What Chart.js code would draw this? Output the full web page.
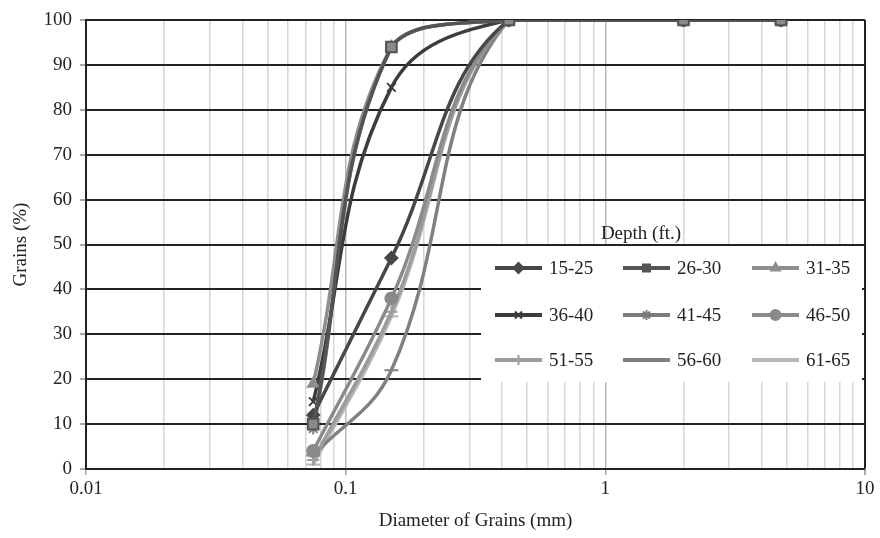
<!DOCTYPE html>
<html>
<head>
<meta charset="utf-8">
<script src="https://cdn.jsdelivr.net/npm/chart.js@4.4.1/dist/chart.umd.min.js"></script>
<style>
  html, body { margin: 0; padding: 0; background: #fff; }
  #wrap { width: 880px; height: 538px; }
</style>
</head>
<body>
<div id="wrap"><canvas id="gradChart"></canvas></div>
<script>
// sieve sizes (mm) and percent passing per depth interval
const diameters = [0.075, 0.15, 0.425, 2.0, 4.75];
const depthLabels = ['15-25', '26-30', '31-35', '36-40', '41-45', '46-50', '51-55', '56-60', '61-65'];
const d15_25 = [12, 47, 100, 100, 100];
const d26_30 = [10, 94, 100, 100, 100];
const d31_35 = [19, 94, 100, 100, 100];
const d36_40 = [15, 85, 100, 100, 100];
const d41_45 = [9, 94, 100, 100, 100];
const d46_50 = [4, 38, 100, 100, 100];
const d51_55 = [2, 35, 100, 100, 100];
const d56_60 = [3, 22, 100, 100, 100];
const d61_65 = [1, 34, 100, 100, 100];
const xTickLabels = [0.01, 0.1, 1, 10];
const yTicks = [0, 10, 20, 30, 40, 50, 60, 70, 80, 90, 100];

const seriesValues = [d15_25, d26_30, d31_35, d36_40, d41_45, d46_50, d51_55, d56_60, d61_65];
const seriesColors = ['#474747', '#545454', '#8e8e8e', '#3c3c3c', '#7c7c7c', '#8a8a8a', '#9c9c9c', '#808080', '#b6b6b6'];
const seriesMarkers = ['rectRot', 'rect', 'triangle', 'crossRot', 'star', 'circle', 'cross', 'line', 'line'];

const FONT = '"Liberation Serif", "DejaVu Serif", serif';

// minor log grid ticks 1..9 per decade
function logTicks() {
  const out = [];
  for (let e = -2; e <= 0; e++) {
    for (let m = 1; m <= 9; m++) {
      out.push({ value: Number((m * Math.pow(10, e)).toPrecision(2)) });
    }
  }
  out.push({ value: 10 });
  return out;
}

function isMajor(v) {
  return xTickLabels.some(t => Math.abs(t - v) < 1e-9);
}

// white legend box with title, sitting inside the plot
const depthLegend = {
  id: 'depthLegend',
  afterDraw(chart) {
    const ctx = chart.ctx;
    ctx.save();
    ctx.fillStyle = '#fff';
    ctx.fillRect(481, 246, 381, 136);
    ctx.fillStyle = '#222';
    ctx.font = '19px ' + FONT;
    ctx.textAlign = 'center';
    ctx.textBaseline = 'middle';
    ctx.fillText('Depth (ft.)', 641, 234);

    const cols = [495, 623, 752];
    const rows = [268, 315, 360];
    depthLabels.forEach((lab, i) => {
      const x = cols[i % 3];
      const y = rows[Math.floor(i / 3)];
      const col = seriesColors[i];
      ctx.strokeStyle = col;
      ctx.lineWidth = 4;
      ctx.beginPath();
      ctx.moveTo(x, y);
      ctx.lineTo(x + 47, y);
      ctx.stroke();
      if (seriesMarkers[i] !== 'line') {
        ctx.fillStyle = col;
        ctx.strokeStyle = col;
        ctx.lineWidth = 2;
        Chart.helpers.drawPoint(ctx, {
          pointStyle: seriesMarkers[i],
          radius: 5,
          borderWidth: 2,
          rotation: 0
        }, x + 23.5, y);
      }
      ctx.fillStyle = '#222';
      ctx.textAlign = 'left';
      ctx.fillText(lab, x + 54, y + 1);
    });
    ctx.restore();
  }
};

const datasets = depthLabels.map((lab, i) => ({
  label: lab,
  data: diameters.map((d, j) => ({ x: d, y: seriesValues[i][j] })),
  borderColor: seriesColors[i],
  backgroundColor: seriesColors[i],
  pointBackgroundColor: seriesMarkers[i] === 'rect' ? '#8a8a8a' : seriesColors[i],
  pointBorderColor: seriesColors[i],
  pointStyle: seriesMarkers[i],
  pointRadius: seriesMarkers[i] === 'rect' ? 7.5 : (seriesMarkers[i] === 'line' ? 7 : 6),
  pointBorderWidth: 2,
  borderWidth: 3.5,
  tension: 0.4,
  order: lab === '26-30' ? -1 : 0,
  fill: false
}));

new Chart(document.getElementById('gradChart'), {
  type: 'line',
  data: { datasets: datasets },
  plugins: [depthLegend],
  options: {
    responsive: true,
    maintainAspectRatio: false,
    animation: false,
    layout: { padding: { top: 20, right: 15, left: 0, bottom: 0 } },
    plugins: {
      legend: { display: false },
      tooltip: { enabled: false }
    },
    scales: {
      x: {
        type: 'logarithmic',
        min: 0.01,
        max: 10,
        afterBuildTicks: scale => { scale.ticks = logTicks(); },
        afterFit: scale => { scale.height = 69; },
        ticks: {
          autoSkip: false,
          maxRotation: 0,
          padding: 3,
          color: '#222',
          font: { family: FONT, size: 19 },
          callback: v => isMajor(v) ? String(v) : ''
        },
        grid: {
          color: c => {
            const v = c.tick ? c.tick.value : 0;
            if (Math.abs(v - 10) < 1e-9) return '#222';
            return isMajor(v) ? '#b9b9b9' : '#d6d6d6';
          },
          lineWidth: c => (c.tick && Math.abs(c.tick.value - 10) < 1e-9) ? 2 : 1.5,
          tickColor: c => (c.tick && isMajor(c.tick.value)) ? '#aaa' : 'rgba(0,0,0,0)',
          tickLength: 6
        },
        border: { color: '#222', width: 2 },
        title: {
          display: true,
          text: 'Diameter of Grains (mm)',
          color: '#222',
          font: { family: FONT, size: 19 },
          padding: { top: 4, bottom: 6 }
        }
      },
      y: {
        min: 0,
        max: 100,
        afterBuildTicks: scale => { scale.ticks = yTicks.map(v => ({ value: v })); },
        afterFit: scale => { scale.width = 86; },
        ticks: {
          padding: 8,
          color: '#222',
          font: { family: FONT, size: 19 }
        },
        grid: {
          color: '#222',
          lineWidth: 2,
          tickColor: '#aaa',
          tickLength: 6
        },
        border: { color: '#222', width: 2 },
        title: {
          display: true,
          text: 'Grains (%)',
          color: '#222',
          font: { family: FONT, size: 19 },
          padding: { top: 10, bottom: 0 }
        }
      }
    }
  }
});
</script>
</body>
</html>
